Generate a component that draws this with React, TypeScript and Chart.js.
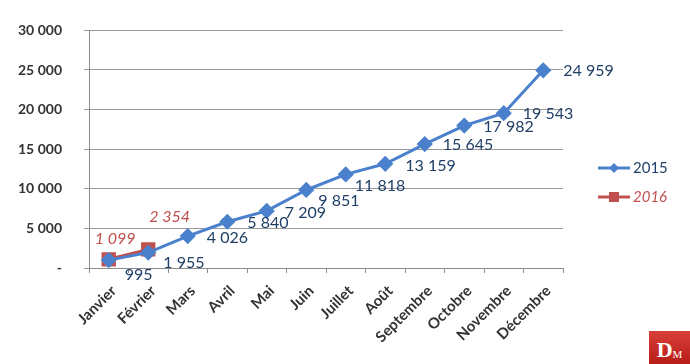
import React, { useEffect, useRef } from "react";
import { Chart, registerables } from "chart.js";

Chart.register(...registerables);

const months = ["Janvier", "Février", "Mars", "Avril", "Mai", "Juin", "Juillet", "Août", "Septembre", "Octobre", "Novembre", "Décembre"];
const values2015 = [995, 1955, 4026, 5840, 7209, 9851, 11818, 13159, 15645, 17982, 19543, 24959];
const values2016: (number | null)[] = [1099, 2354, null, null, null, null, null, null, null, null, null, null];
const seriesNames = ["2015", "2016"];

// label placement nudges (style, px)
const nudge2015 = [[16, 15], [15, 10], [19, 2], [20, 1], [18, 2], [12, 11], [9, 11], [20, 2], [18, 1], [19, 1], [19, 1], [20, 1]];
const nudge2016 = [[-14, -20], [1, -33]];

const BLUE = "#4a80cc";
const RED = "#c0504d";
const NAVY = "#1f3f66";
const FONT = "Lato, 'Open Sans', sans-serif";

const fmt = (v: number) => (v === 0 ? "-" : String(v).replace(/\B(?=(\d{3})+(?!\d))/g, " "));

const labelPlugin = {
  id: "labels",
  afterDatasetsDraw(chart: any) {
    const ctx = chart.ctx;
    ctx.save();
    ctx.textBaseline = "middle";
    ctx.textAlign = "left";
    const m0 = chart.getDatasetMeta(0);
    ctx.font = `16px ${FONT}`;
    ctx.fillStyle = NAVY;
    m0.data.forEach((p: any, i: number) => {
      const n = nudge2015[i] || [19, 1];
      ctx.fillText(fmt(values2015[i]), p.x + n[0], p.y + n[1]);
    });
    const m1 = chart.getDatasetMeta(1);
    ctx.font = `italic 16px ${FONT}`;
    ctx.fillStyle = RED;
    m1.data.forEach((p: any, i: number) => {
      const v = values2016[i];
      if (v == null) return;
      const n = nudge2016[i] || [0, -25];
      ctx.fillText(fmt(v), p.x + n[0], p.y + n[1]);
    });
    ctx.restore();
  },
  afterDraw(chart: any) {
    const ctx = chart.ctx;
    ctx.save();
    const items = [
      { name: seriesNames[0], color: BLUE, text: NAVY, y: 168, style: "diamond", font: `15px ${FONT}` },
      { name: seriesNames[1], color: RED, text: RED, y: 197, style: "square", font: `italic 15px ${FONT}` },
    ];
    items.forEach((it) => {
      ctx.strokeStyle = it.color;
      ctx.lineWidth = 3;
      ctx.beginPath();
      ctx.moveTo(598, it.y);
      ctx.lineTo(630, it.y);
      ctx.stroke();
      ctx.fillStyle = it.color;
      if (it.style === "diamond") {
        ctx.beginPath();
        ctx.moveTo(614, it.y - 5);
        ctx.lineTo(619, it.y);
        ctx.lineTo(614, it.y + 5);
        ctx.lineTo(609, it.y);
        ctx.closePath();
        ctx.fill();
      } else {
        ctx.fillRect(609, it.y - 5, 10, 10);
      }
      ctx.font = it.font;
      ctx.fillStyle = it.text;
      ctx.textAlign = "left";
      ctx.textBaseline = "middle";
      ctx.fillText(it.name, 633, it.y);
    });
    ctx.restore();
  },
};

export default function App() {
  const ref = useRef<HTMLCanvasElement>(null);
  useEffect(() => {
    document.body.style.margin = "0";
    const chart = new Chart(ref.current!, {
      type: "line",
      data: {
        labels: months,
        datasets: [
          {
            label: seriesNames[0],
            data: values2015,
            borderColor: BLUE,
            backgroundColor: BLUE,
            borderWidth: 3,
            pointStyle: "rectRot",
            pointRadius: 6,
            pointHoverRadius: 6,
            tension: 0,
          },
          {
            label: seriesNames[1],
            data: values2016,
            borderColor: RED,
            backgroundColor: RED,
            borderWidth: 3,
            pointStyle: "rect",
            pointRadius: 8,
            pointHoverRadius: 8,
            tension: 0,
            spanGaps: false,
          },
        ],
      },
      options: {
        responsive: false,
        animation: false,
        devicePixelRatio: 1,
        layout: { padding: { left: 0, top: 25, right: 127, bottom: 0 } },
        plugins: { legend: { display: false }, tooltip: { enabled: false } },
        scales: {
          x: {
            offset: true,
            afterFit: (s: any) => { s.height = 96; },
            grid: { drawOnChartArea: false, drawTicks: true, tickLength: 5, offset: true, color: "#8c8c8c" },
            border: { color: "#8c8c8c", width: 1 },
            ticks: {
              minRotation: 45,
              maxRotation: 45,
              autoSkip: false,
              color: "#333333",
              font: { family: FONT, size: 15, weight: "bold" },
              padding: 9,
              labelOffset: 5,
            },
          },
          y: {
            min: 0,
            max: 30000,
            afterFit: (s: any) => { s.width = 89; },
            grid: { color: "#9a9a9a", tickLength: 5 },
            border: { color: "#8c8c8c", width: 1 },
            ticks: {
              stepSize: 5000,
              padding: 22,
              color: "#333333",
              font: { family: FONT, size: 14, weight: "bold" },
              callback: (v: any) => fmt(Number(v)),
            },
          },
        },
      },
      plugins: [labelPlugin],
    });
    return () => chart.destroy();
  }, []);
  return (
    <div style={{ position: "fixed", left: 0, top: 0, width: 690, height: 364, background: "#fff" }}>
      <canvas ref={ref} width={690} height={364} style={{ display: "block" }} />
      <div
        style={{
          position: "absolute",
          left: 649,
          top: 331,
          width: 41,
          height: 33,
          background: "linear-gradient(#d9403a, #b81d18)",
          color: "#fff",
          fontFamily: "'Liberation Serif', serif",
          fontWeight: "bold",
          display: "flex",
          alignItems: "flex-end",
          justifyContent: "center",
          paddingBottom: 3,
          boxSizing: "border-box",
        }}
      >
        <span style={{ fontSize: 22, lineHeight: "22px" }}>D</span>
        <span style={{ fontSize: 11, lineHeight: "13px", fontWeight: "normal" }}>M</span>
      </div>
    </div>
  );
}
